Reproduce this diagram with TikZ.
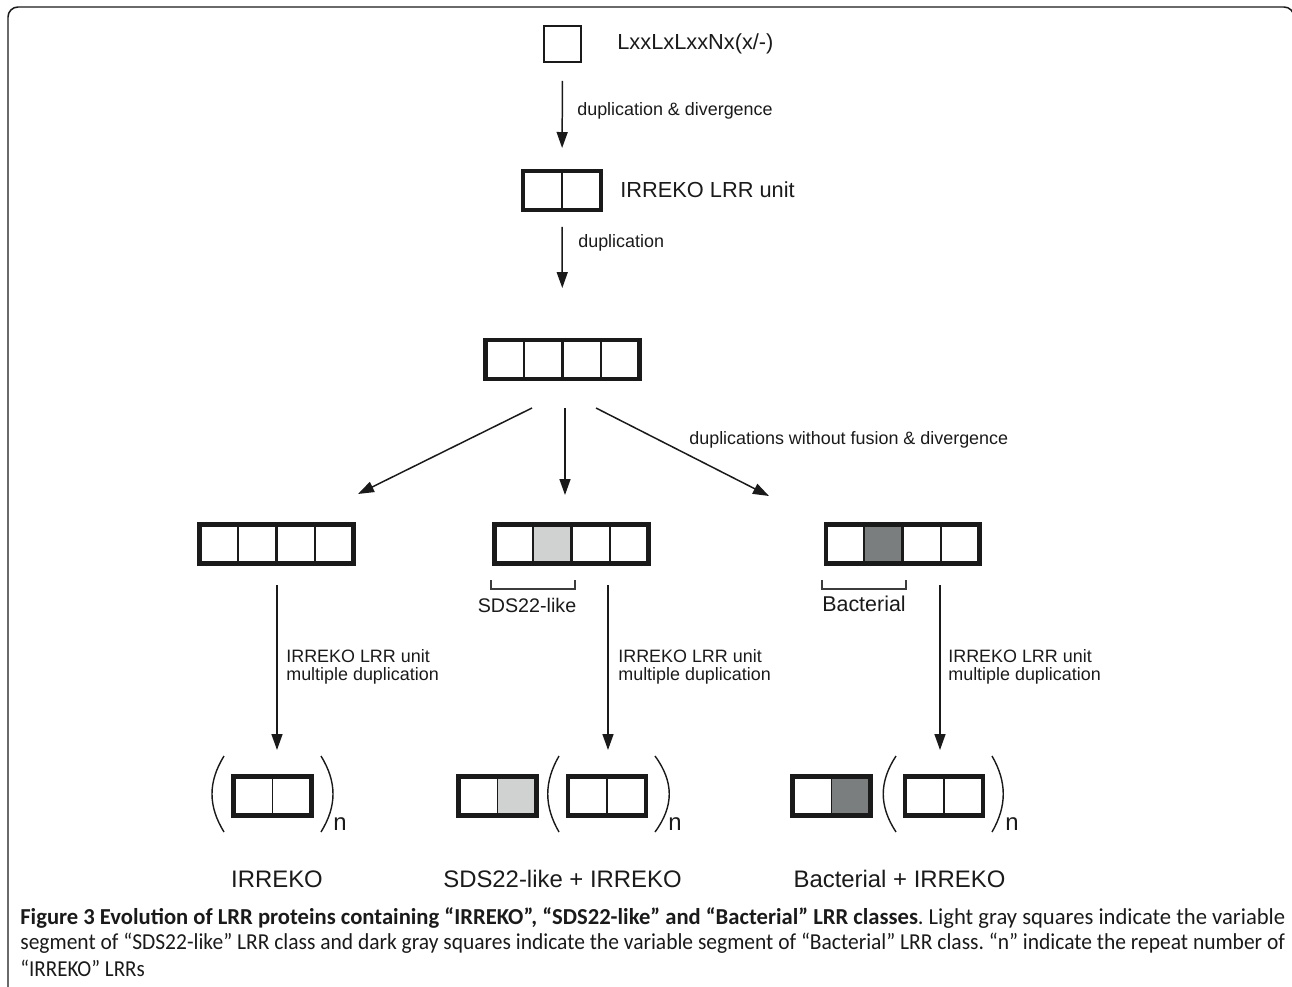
\documentclass[tikz,border=0pt]{standalone}
\usepackage{graphicx}
\usepackage{fontspec}
\setmainfont{Liberation Sans}
\newfontfamily\capfont[FakeStretch=0.92]{Carlito}
\usetikzlibrary{arrows.meta,calc,backgrounds}
\definecolor{lgray}{HTML}{D0D2D1}
\definecolor{dgray}{HTML}{7A7E7E}
\definecolor{ink}{HTML}{1A1A1A}
\newcommand\mydiv[3][div]{\draw[#1] ($(#2.north west)!#3!(#2.north east)$) -- ($(#2.south west)!#3!(#2.south east)$);}
\newcommand\mycell[4]{\fill[#4] ($(#1.north west)!#2!(#1.north east)$) rectangle ($(#1.south west)!#3!(#1.south east)$);}
\frenchspacing
\begin{document}
\begin{tikzpicture}[x=0.02cm,y=-0.02cm,
  boxbase/.style={draw=ink, line width=2.3pt, minimum height=0.78cm, inner sep=0pt, outer sep=0pt},
  boxfour/.style={boxbase, minimum width=3.08cm},
  boxtwo/.style={boxbase, minimum width=1.56cm},
  boxone/.style={draw=ink, line width=1.1pt, minimum width=0.74cm, minimum height=0.72cm, inner sep=0pt, outer sep=0pt},
  div/.style={draw=ink, line width=0.85pt},
  divthick/.style={draw=ink, line width=1.8pt},
  arr/.style={draw=ink, line width=0.85pt, -{Triangle[length=0.32cm,width=0.22cm]}},
  small/.style={font=\fontsize{10.2}{12}\selectfont, text=ink, inner sep=0pt, anchor=west},
  mid/.style={font=\fontsize{12.4}{15}\selectfont, text=ink, inner sep=0pt},
  big/.style={font=\fontsize{13.6}{16}\selectfont, text=ink, inner sep=0pt},
  paren/.style={draw=ink, line width=0.8pt},
  brack/.style={draw=ink!85, line width=0.6pt},
  captext/.style={font=\capfont\fontsize{13}{15}\selectfont\frenchspacing, text=ink, inner sep=0pt, anchor=west},
  frame/.style={draw=ink, line width=0.85pt, rounded corners=0.2cm}
]
\useasboundingbox (0,0) rectangle (1292,987);
\clip (0,0) rectangle (1292,987);
\draw[frame] (8,1010) -- (8,7) -- (1294,7) -- (1294,1010);

% level 0 and 1
\node[boxone] (top) at (562.5,44) {};
\node[mid, anchor=west] (toplab) at (617,44) {LxxLxLxxNx(x/-)};
\node[boxtwo] (b2) at (562,190.5) {};
\mydiv{b2}{0.5}
\node[mid, anchor=west] (b2lab) at (620,190) {IRREKO LRR unit};
\draw[arr, shorten <=0.38cm, shorten >=0.46cm] (top.south) -- (b2.north);
\node[small] (l1) at (577,111) {duplication \& divergence};

% level 2
\node[boxfour] (b4) at (562.5,359.5) {};
\mydiv{b4}{0.25}\mydiv[divthick]{b4}{0.5}\mydiv{b4}{0.75}
\draw[arr, shorten <=0.34cm, shorten >=1.04cm] (b2.south) -- (b4.north);
\node[small] (l2) at (578,243) {duplication};

% level 3 boxes
\node[boxfour] (L) at (276.5,544) {};
\node[boxfour] (M) at (571.5,544) {};
\node[boxfour] (R) at (902.5,544) {};
\begin{scope}[on background layer]
\mycell{M}{0.25}{0.5}{lgray}
\mycell{R}{0.25}{0.5}{dgray}
\end{scope}
\foreach \b in {L,M,R}{\mydiv{\b}{0.25}\mydiv[divthick]{\b}{0.5}\mydiv{\b}{0.75}}

\coordinate (d1s) at (532,408); \coordinate (d1e) at (358,494);
\coordinate (d2s) at (565,408); \coordinate (d2e) at (565,495);
\coordinate (d3s) at (596,408); \coordinate (d3e) at (769,496);
\draw[arr] (d1s) -- (d1e);
\draw[arr] (d2s) -- (d2e);
\draw[arr] (d3s) -- (d3e);
\node[small] (l3) at (689,440) {duplications without fusion \& divergence};

% brackets
\draw[brack] (491,580) -- (491,589) -- (575,589) -- (575,580);
\node[font=\fontsize{11.2}{13}\selectfont, text=ink, inner sep=0pt] (sdsl) at (527,605) {SDS22-like};
\draw[brack] (822,580) -- (822,589) -- (906,589) -- (906,580);
\node[font=\fontsize{12.2}{14}\selectfont, text=ink, inner sep=0pt] (bacl) at (864,604) {Bacterial};

% vertical arrows
\coordinate (v1s) at (277,585); \coordinate (v1e) at (277,750);
\coordinate (v2s) at (608,585); \coordinate (v2e) at (608,750);
\coordinate (v3s) at (940,585); \coordinate (v3e) at (940,750);
\draw[arr] (v1s) -- (v1e);
\draw[arr] (v2s) -- (v2e);
\draw[arr] (v3s) -- (v3e);
\foreach \x/\n in {286/a,618/b,948/c}{
  \node[small] (u\n) at (\x,656) {IRREKO LRR unit};
  \node[small] (m\n) at (\x,676) {multiple duplication};
}

% bottom row
\node[boxtwo] (BL) at (272.5,796) {};
\node[boxtwo] (BM1) at (497.5,796) {};
\node[boxtwo] (BM2) at (607,796) {};
\node[boxtwo] (BR1) at (831.5,796) {};
\node[boxtwo] (BR2) at (944,796) {};
\begin{scope}[on background layer]
\mycell{BM1}{0.5}{1}{lgray}
\mycell{BR1}{0.5}{1}{dgray}
\end{scope}
\foreach \b in {BL,BM1,BM2,BR1,BR2}{\mydiv{\b}{0.5}}

\draw[paren] (224,756) .. controls (208,782) and (208,806) .. (224,832);
\draw[paren] (321,756) .. controls (337,782) and (337,806) .. (321,832);
\draw[paren] (559,756) .. controls (544,782) and (544,806) .. (559,832);
\draw[paren] (655,756) .. controls (674,782) and (674,806) .. (655,832);
\draw[paren] (896,756) .. controls (879,782) and (879,806) .. (896,832);
\draw[paren] (992,756) .. controls (1007,782) and (1007,806) .. (992,832);
\node[big, anchor=west] (n1) at (333,824) {n};
\node[big, anchor=west] (n2) at (668,824) {n};
\node[big, anchor=west] (n3) at (1005,824) {n};

\node[big] (t1) at (277,879) {IRREKO};
\node[big] (t2) at (562.5,879) {SDS22-like + IRREKO};
\node[big] (t3) at (899.5,879) {Bacterial + IRREKO};

% caption
\node[captext] (c1) at (20,918) {\resizebox{25.3cm}{\height}{\textbf{Figure 3 Evolution of LRR proteins containing “IRREKO”, “SDS22-like” and “Bacterial” LRR classes}. Light gray squares indicate the variable}};
\node[captext] (c2) at (20,943) {\resizebox{25.3cm}{\height}{segment of “SDS22-like” LRR class and dark gray squares indicate the variable segment of “Bacterial” LRR class. “n” indicate the repeat number of}};
\node[captext] (c3) at (20,968) {“IRREKO” LRRs};
\end{tikzpicture}
\end{document}
